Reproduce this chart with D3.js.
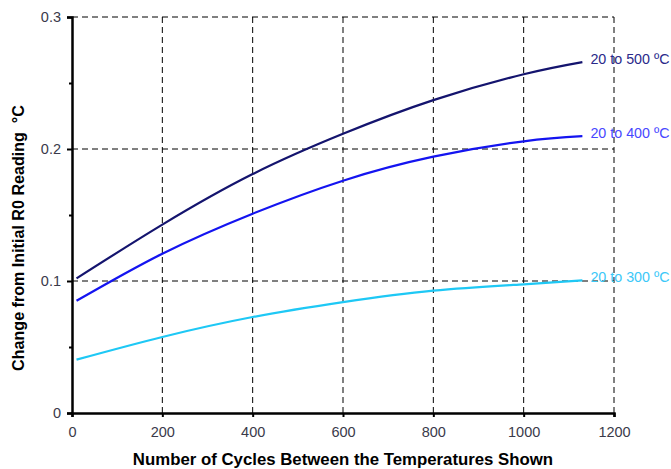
<!DOCTYPE html>
<html><head><meta charset="utf-8">
<script src="https://cdn.jsdelivr.net/npm/d3@7"></script>
<style>body{margin:0;background:#fff}svg{display:block}</style>
</head><body>
<svg id="c" width="671" height="469"></svg>
<script>
const cycles = [10, 200, 400, 600, 800, 1000, 1130];
const r500 = [0.102, 0.1427, 0.181, 0.2115, 0.237, 0.2566, 0.2658];
const r400 = [0.085, 0.1207, 0.151, 0.176, 0.1942, 0.2058, 0.2097];
const r300 = [0.0404, 0.0576, 0.0727, 0.084, 0.0927, 0.0975, 0.1005];
const seriesNames = ["20 to 500 ºC", "20 to 400 ºC", "20 to 300 ºC"];
const lineColors = ["#14146e", "#1414f0", "#1ec8f5"];
const labelColors = ["#2a2a8a", "#4848ff", "#3cc8f8"];
const xTicks = [0, 200, 400, 600, 800, 1000, 1200];
const yTicks = [0, 0.1, 0.2, 0.3];
const yMinor = [0.05, 0.15, 0.25];

const svg = d3.select("#c");
const m = {l: 72, r: 57, t: 17, b: 56};
const W = 671, H = 469;
const FONT = "Liberation Sans, Arial, sans-serif";
const x = d3.scaleLinear().domain([0, 1200]).range([m.l, W - m.r]);
const y = d3.scaleLinear().domain([0, 0.3]).range([H - m.b, m.t]);

// grid
const g = svg.append("g");
g.selectAll("line.v").data(xTicks.slice(1)).enter().append("line")
  .attr("x1", d => x(d)).attr("x2", d => x(d)).attr("y1", y(0)).attr("y2", y(0.3))
  .attr("stroke", "#000").attr("stroke-width", 1).attr("stroke-dasharray", "6,4");
g.selectAll("line.h").data(yTicks.slice(1)).enter().append("line")
  .attr("x1", x(0)).attr("x2", x(1200)).attr("y1", d => y(d)).attr("y2", d => y(d))
  .attr("stroke", "#000").attr("stroke-width", 1).attr("stroke-dasharray", "6,4");

// lines
const series = [r500, r400, r300];
const line = d3.line().x(d => x(d[0])).y(d => y(d[1])).curve(d3.curveNatural);
series.forEach((s, i) => {
  const pts = cycles.map((c, j) => [c, s[j]]);
  svg.append("path").attr("d", line(pts)).attr("fill", "none")
    .attr("stroke", lineColors[i]).attr("stroke-width", 2.2);
  svg.append("text").attr("x", x(cycles[cycles.length - 1]) + 8)
    .attr("y", y(s[s.length - 1]) - 2).attr("dominant-baseline", "middle")
    .attr("font-family", FONT).attr("font-size", 14.3)
    .attr("fill", labelColors[i]).text(seriesNames[i]);
});

// axes
const xAxis = d3.axisBottom(x).tickValues(xTicks).tickSize(4).tickFormat(d3.format("d"));
const ax = svg.append("g").attr("transform", `translate(0,${y(0)})`).call(xAxis);
ax.select(".domain").attr("stroke-width", 2.5);
ax.selectAll(".tick line").attr("stroke-width", 2);
ax.selectAll("text").attr("font-family", FONT)
  .attr("font-size", 14.5).attr("fill", "#3a3a4a").attr("y", 9).attr("dy", "1em");

const yAxis = d3.axisLeft(y).tickValues(yTicks).tickSize(5).tickFormat(d => d === 0 ? "0" : d3.format(".1f")(d));
const ay = svg.append("g").attr("transform", `translate(${x(0)},0)`).call(yAxis);
ay.select(".domain").attr("stroke-width", 2.5);
ay.selectAll(".tick line").attr("stroke-width", 2);
ay.selectAll("text").attr("font-family", FONT)
  .attr("font-size", 14.5).attr("fill", "#3a3a4a").attr("x", -11);
const yAxisMinor = d3.axisLeft(y).tickValues(yMinor).tickSize(3).tickFormat("");
const am = svg.append("g").attr("transform", `translate(${x(0)},0)`).call(yAxisMinor);
am.select(".domain").remove();
am.selectAll(".tick line").attr("stroke-width", 2);

// titles
svg.append("text").attr("x", (x(0) + x(1200)) / 2).attr("y", 465).attr("text-anchor", "middle")
  .attr("font-family", FONT).attr("font-size", 16.8).attr("font-weight", "bold")
  .text("Number of Cycles Between the Temperatures Shown");
svg.append("text").attr("transform", `translate(24,238) rotate(-90)`)
  .attr("text-anchor", "middle")
  .attr("font-family", FONT).attr("font-size", 16.1).attr("font-weight", "bold")
  .attr("xml:space", "preserve").style("white-space", "pre")
  .text("Change from Initial R0 Reading  °C");
</script>
</body></html>
